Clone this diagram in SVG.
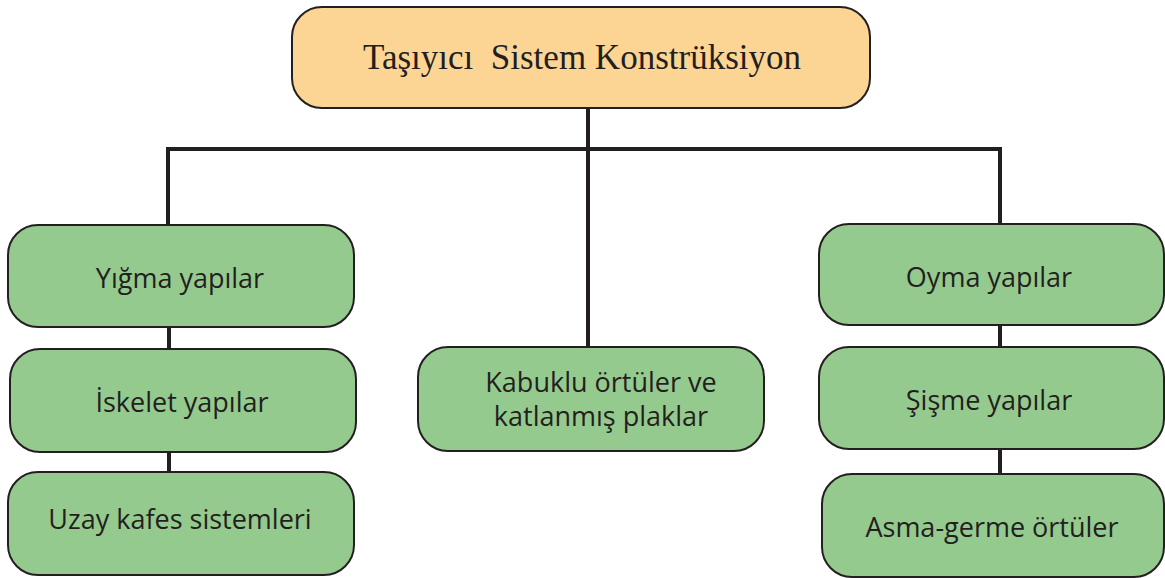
<svg xmlns="http://www.w3.org/2000/svg" width="1165" height="578" viewBox="0 0 1165 578">
<style>
.box{fill:#95ca8f;stroke:#231f20;stroke-width:2}
.top{fill:#fcd594;stroke:#231f20;stroke-width:2}
.lbl{font-family:"Open Sans",sans-serif;font-size:27px;fill:#231f20;text-anchor:middle}
.ttl{font-family:"Liberation Serif",serif;font-size:35px;fill:#231f20;text-anchor:middle;white-space:pre}
.con{stroke:#231f20;stroke-width:4;fill:none}
</style>
<rect width="1165" height="578" fill="#ffffff"/>
<g id="connectors">
<path class="con" d="M588 108V149M168 149H1000M168 147V226M588 147V348M1000 147V224"/>
<path class="con" d="M169 327V349M169 452V472M1000 325V347M1000 449V474"/>
</g>
<g id="root"><rect class="top" x="292" y="7" width="578" height="101" rx="30"/><text class="ttl" x="582" y="69" xml:space="preserve">Taşıyıcı  Sistem Konstrüksiyon</text></g>
<g id="yigma"><rect class="box" x="8" y="225" width="346" height="102" rx="30"/><text class="lbl" x="180" y="288">Yığma yapılar</text></g>
<g id="iskelet"><rect class="box" x="10" y="349" width="346" height="103" rx="30"/><text class="lbl" x="182" y="412">İskelet yapılar</text></g>
<g id="uzay"><rect class="box" x="8" y="472" width="346" height="103" rx="30"/><text class="lbl" x="180" y="529">Uzay kafes sistemleri</text></g>
<g id="kabuklu"><rect class="box" x="418" y="347" width="346" height="104" rx="30"/><text class="lbl" x="601" y="392">Kabuklu örtüler ve</text><text class="lbl" x="601" y="426">katlanmış plaklar</text></g>
<g id="oyma"><rect class="box" x="819" y="224" width="345" height="101" rx="30"/><text class="lbl" x="989" y="287">Oyma yapılar</text></g>
<g id="sisme"><rect class="box" x="819" y="347" width="345" height="102" rx="30"/><text class="lbl" x="989" y="410">Şişme yapılar</text></g>
<g id="asma"><rect class="box" x="822" y="474" width="342" height="103" rx="30"/><text class="lbl" x="992" y="537">Asma-germe örtüler</text></g>
</svg>
